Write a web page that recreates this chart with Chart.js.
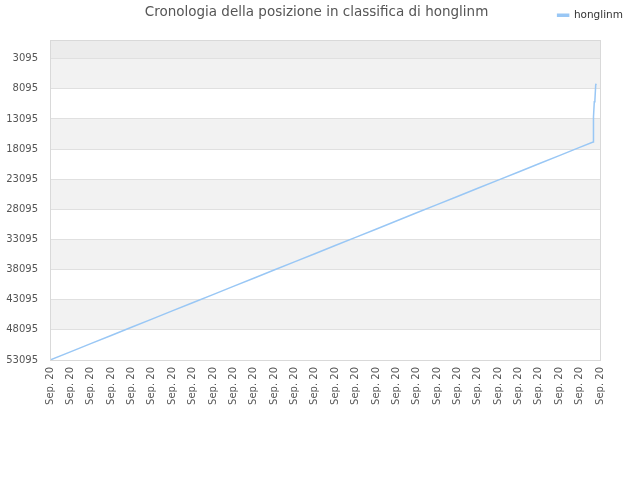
<!DOCTYPE html>
<html>
<head>
<meta charset="utf-8">
<script src="https://cdn.jsdelivr.net/npm/chart.js@4/dist/chart.umd.min.js"></script>
<style>
  html, body { margin: 0; padding: 0; background: #fff; }
  #chart { display: block; }
</style>
</head>
<body>
<canvas id="chart" width="640" height="480"></canvas>
<script>
const seriesName = "honglinm";
const titleText = "Cronologia della posizione in classifica di honglinm";

// tick labels on the x axis (one per day slot)
const xLabels = [
  "Sep. 20", "Sep. 20", "Sep. 20", "Sep. 20", "Sep. 20", "Sep. 20", "Sep. 20",
  "Sep. 20", "Sep. 20", "Sep. 20", "Sep. 20", "Sep. 20", "Sep. 20", "Sep. 20",
  "Sep. 20", "Sep. 20", "Sep. 20", "Sep. 20", "Sep. 20", "Sep. 20", "Sep. 20",
  "Sep. 20", "Sep. 20", "Sep. 20", "Sep. 20", "Sep. 20", "Sep. 20", "Sep. 20",
];

// y tick values (rank, reversed axis)
const yTicks = [3095, 8095, 13095, 18095, 23095, 28095, 33095, 38095, 43095, 48095, 53095];

// where each reading sits along the x axis (in label slots) and the rank read there
const positions = [
  0, 1, 2, 3, 4, 5, 6, 7, 8, 9, 10, 11, 12, 13, 14, 15, 16, 17, 18, 19, 20,
  21, 22, 23, 24, 25, 26, 26.66, 26.68, 26.72, 26.75, 26.79, 26.82,
];
const ranks = [
  53095, 51740, 50380, 49020, 47670, 46310, 44950, 43600, 42240, 40880, 39530,
  38170, 36810, 35460, 34100, 32740, 31390, 30030, 28670, 27320, 25960, 24600,
  23250, 21890, 20530, 19180, 17820, 16930, 12760, 10260, 9930, 7430, 7260,
];

const lineColor = "#99c7f5";

// grey bands between every other pair of ticks + frame round the plot
const bandsPlugin = {
  id: "bands",
  beforeDraw(chart) {
    const { ctx, chartArea: a, scales } = chart;
    const y = scales.y;
    ctx.save();
    ctx.fillStyle = "#ececec";
    ctx.fillRect(a.left, a.top, a.right - a.left, y.getPixelForValue(yTicks[0]) - a.top);
    ctx.fillStyle = "#f2f2f2";
    for (let i = 0; i < yTicks.length - 1; i += 2) {
      const t = y.getPixelForValue(yTicks[i]);
      const b = y.getPixelForValue(yTicks[i + 1]);
      ctx.fillRect(a.left, t, a.right - a.left, b - t);
    }
    ctx.restore();
  },
  afterDraw(chart) {
    const { ctx, chartArea: a } = chart;
    ctx.save();
    ctx.strokeStyle = "#d9d9d9";
    ctx.lineWidth = 1;
    ctx.strokeRect(a.left + 0.5, a.top + 0.5, a.right - a.left, a.bottom - a.top);
    ctx.restore();
  },
};

new Chart(document.getElementById("chart"), {
  type: "line",
  data: {
    datasets: [
      {
        label: seriesName,
        data: positions.map((p, i) => ({ x: p, y: ranks[i] })),
        borderColor: lineColor,
        backgroundColor: lineColor,
        borderWidth: 1.5,
        pointRadius: 0,
        tension: 0,
        fill: false,
      },
    ],
  },
  options: {
    responsive: false,
    devicePixelRatio: 1,
    animation: false,
    layout: { padding: { left: 0, right: 7, top: 0, bottom: 0 } },
    plugins: {
      legend: {
        position: "top",
        align: "end",
        weight: 2000,
        labels: {
          boxWidth: 11,
          boxHeight: 2,
          padding: 10,
          color: "#333",
          font: { family: "DejaVu Sans", size: 10.5 },
        },
      },
      title: {
        display: true,
        text: titleText,
        weight: 1000,
        color: "#555",
        font: { family: "DejaVu Sans", size: 13.5, weight: "normal" },
        padding: { top: -26, bottom: 19.3 },
      },
      tooltip: { enabled: false },
    },
    scales: {
      x: {
        type: "linear",
        min: 0,
        max: xLabels.length - 1,
        grid: { display: false, drawTicks: false },
        border: { display: false },
        ticks: {
          stepSize: 1,
          autoSkip: false,
          maxRotation: 90,
          minRotation: 90,
          padding: 7,
          color: "#555",
          font: { family: "DejaVu Sans", size: 10 },
          callback: (v) => xLabels[Math.round(v)],
        },
        afterFit: (s) => { s.height = 120; },
      },
      y: {
        reverse: true,
        min: 0,
        max: 53095,
        grid: { color: "#e0e0e0", drawTicks: false },
        border: { display: false },
        ticks: {
          padding: 12,
          color: "#555",
          font: { family: "DejaVu Sans", size: 10 },
          callback: (v) => String(v),
        },
        afterBuildTicks: (s) => { s.ticks = yTicks.map((v) => ({ value: v })); },
        afterFit: (s) => { s.width = 50; },
      },
      y2: {
        position: "right",
        display: true,
        grid: { display: false, drawTicks: false },
        border: { display: false },
        ticks: { display: false },
        afterFit: (s) => { s.width = 33; },
      },
    },
  },
  plugins: [bandsPlugin],
});
</script>
</body>
</html>
